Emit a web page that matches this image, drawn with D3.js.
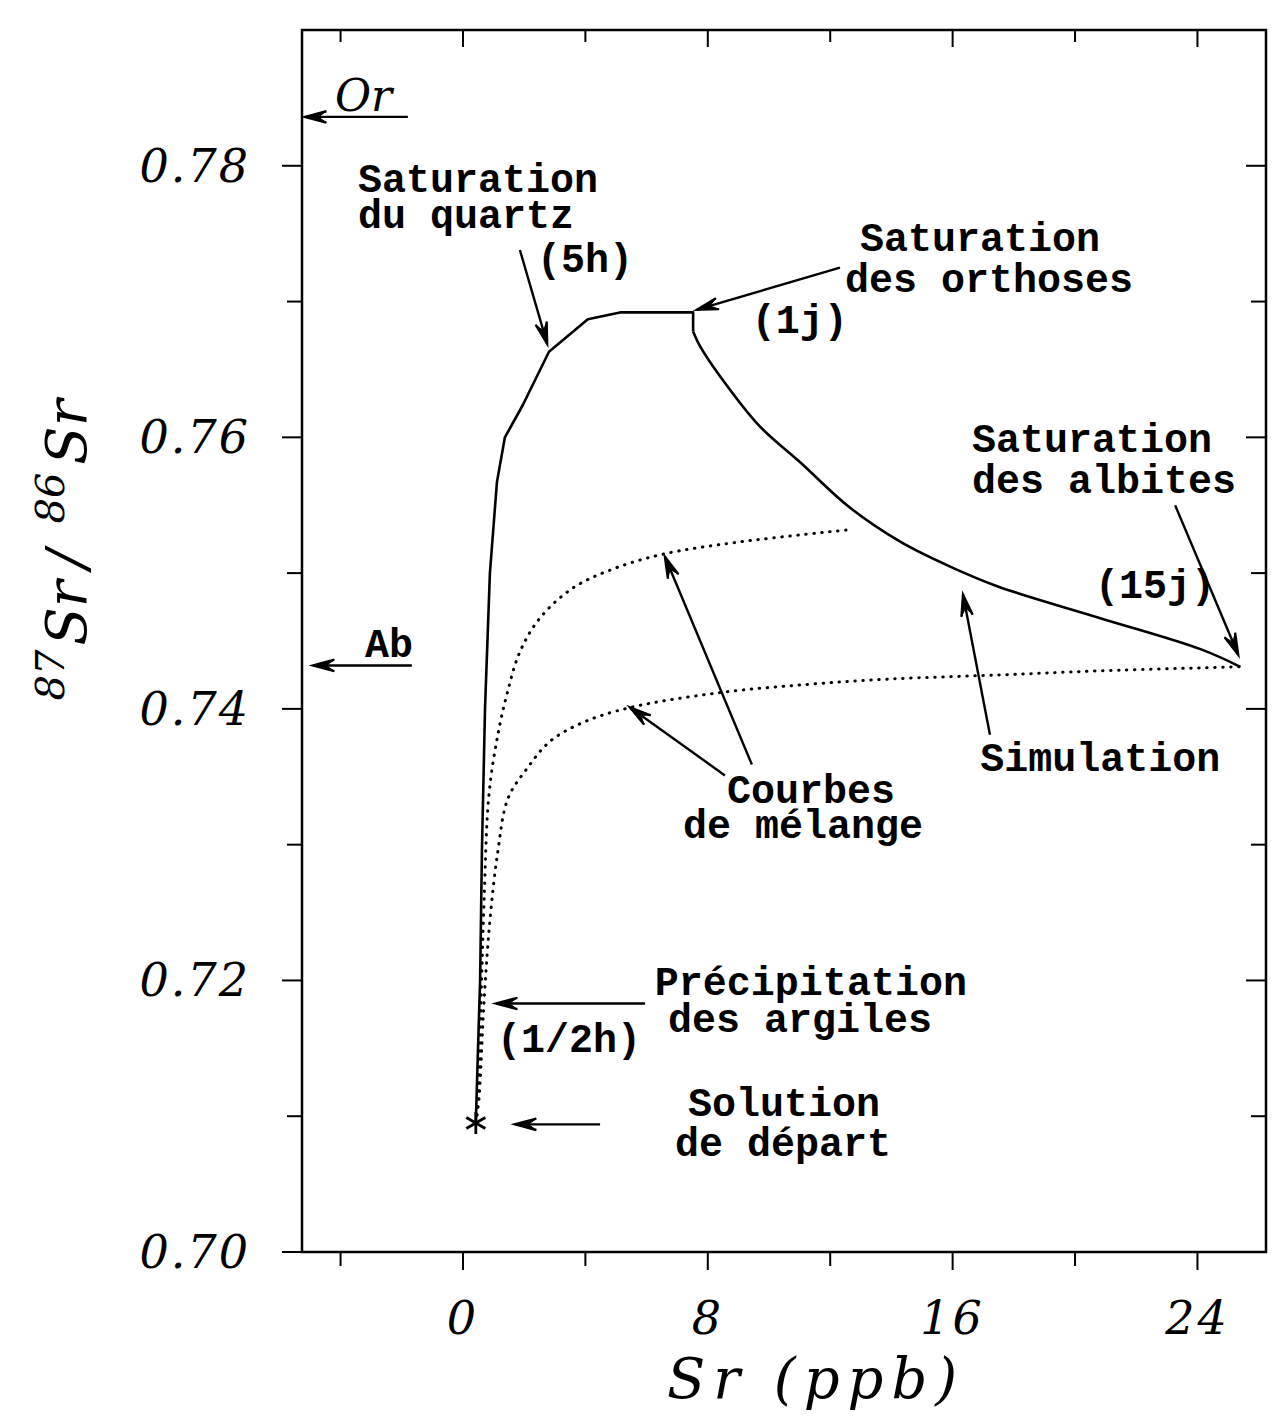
<!DOCTYPE html>
<html><head><meta charset="utf-8">
<script src="https://cdn.jsdelivr.net/npm/d3@7"></script>
<style>body{margin:0;background:#fff}</style>
</head><body>
<svg id="c" width="1274" height="1423"></svg>
<script>
// Simulation curve (Sr ppb, 87Sr/86Sr)
const simX = [0.42,0.49,0.56,0.62,0.72,0.88,1.11,1.37,1.96,2.81,4.08,5.13,7.52,7.52,7.75,8.4,9.7,11.0,12.6,14.3,15.9,17.5,20.8,24.1,25.4];
const simY = [0.7095,0.7149,0.7200,0.7296,0.7400,0.7500,0.7567,0.7600,0.7624,0.7663,0.7687,0.7692,0.7692,0.7678,0.7667,0.7645,0.7608,0.7582,0.7549,0.7523,0.7505,0.7490,0.7467,0.7444,0.7431];
// Upper mixing curve
const mixAX = [0.42,0.49,0.59,0.69,0.85,1.14,1.44,1.86,2.52,3.59,4.90,6.54,9.05,12.65];
const mixAY = [0.7095,0.7112,0.7185,0.7259,0.7337,0.7381,0.7411,0.7442,0.7467,0.7489,0.7503,0.7514,0.7523,0.7532];
// Lower mixing curve
const mixBX = [0.42,0.52,0.69,0.88,1.14,1.47,2.09,2.84,3.92,5.46,8.40,11.24,13.95,17.55,20.8,25.4];
const mixBY = [0.7095,0.7112,0.7185,0.7244,0.7295,0.7334,0.7356,0.7376,0.7390,0.7401,0.7412,0.7418,0.7422,0.7425,0.7428,0.7431];
// Starting solution
const startX = 0.42, startY = 0.7095;
// Axis ticks
const xTicks = [-4,0,4,8,12,16,20,24];
const xTickLabels = ["0","8","16","24"];
const yTicks = [0.70,0.71,0.72,0.73,0.74,0.75,0.76,0.77,0.78];
const yTickLabels = ["0.70","0.72","0.74","0.76","0.78"];
// Annotation texts (data-space anchors)
const labelText = ["Saturation","du quartz","(5h)","Saturation","des orthoses","(1j)","Saturation","des albites","(15j)","Simulation","Courbes","de mélange","Précipitation","des argiles","(1/2h)","Solution","de départ","Ab"];
const labelX = [-3.43,-3.43,2.42,12.97,12.48,9.44,16.63,16.63,20.65,16.90,8.63,7.19,6.27,6.70,1.11,7.35,6.93,-3.20];
const labelY = [0.7781,0.7754,0.7722,0.7737,0.7707,0.7677,0.7589,0.7559,0.7482,0.7354,0.7331,0.7305,0.7189,0.7162,0.7147,0.7100,0.7071,0.7438];
// Arrows (from -> to)
const arrX0 = [-1.80,-1.67,1.86,12.32,23.27,17.22,9.44,8.56,5.95,4.48];
const arrY0 = [0.7836,0.7432,0.7738,0.7725,0.7550,0.7381,0.7359,0.7351,0.7183,0.7094];
const arrX1 = [-5.16,-4.90,2.75,7.65,25.33,16.34,6.60,5.46,1.08,1.70];
const arrY1 = [0.7836,0.7432,0.7669,0.7694,0.7440,0.7484,0.7512,0.7401,0.7183,0.7094];

const svg = d3.select("#c");
const L=302,R=1266,T=30,B=1252;
const x = d3.scaleLinear().domain([-5.26,26.24]).range([L,R]);
const y = d3.scaleLinear().domain([0.70,0.79]).range([B,T]);
const serif = "'DejaVu Serif', serif";
const mono = "'Liberation Mono', 'DejaVu Sans Mono', monospace";

// frame
svg.append("rect").attr("x",L).attr("y",T).attr("width",R-L).attr("height",B-T)
  .attr("fill","none").attr("stroke","#000").attr("stroke-width",2.5);

const isMajX = v => v % 8 === 0;
const isMajY = v => Math.round(v*100) % 2 === 0;
svg.append("g").selectAll("line").data(xTicks).join("line")
  .attr("x1",d=>x(d)).attr("x2",d=>x(d)).attr("y1",B).attr("y2",d=>B+(isMajX(d)?18:14))
  .attr("stroke","#000").attr("stroke-width",2);
svg.append("g").selectAll("line").data(xTicks).join("line")
  .attr("x1",d=>x(d)).attr("x2",d=>x(d)).attr("y1",T).attr("y2",d=>T+(isMajX(d)?17:12))
  .attr("stroke","#000").attr("stroke-width",2);
svg.append("g").selectAll("line").data(yTicks).join("line")
  .attr("y1",d=>y(d)).attr("y2",d=>y(d)).attr("x1",L).attr("x2",d=>L-(isMajY(d)?20:15))
  .attr("stroke","#000").attr("stroke-width",2);
svg.append("g").selectAll("line").data(yTicks).join("line")
  .attr("y1",d=>y(d)).attr("y2",d=>y(d)).attr("x1",R).attr("x2",d=>R-(isMajY(d)?20:15))
  .attr("stroke","#000").attr("stroke-width",2);

// tick labels
svg.append("g").selectAll("text").data(xTickLabels).join("text")
  .attr("x",d=>x(+d)).attr("y",1334).attr("text-anchor","middle")
  .attr("font-family",serif).attr("font-style","italic").attr("font-size",46)
  .attr("letter-spacing",3).text(d=>d);
svg.append("g").selectAll("text").data(yTickLabels).join("text")
  .attr("x",250).attr("y",d=>y(+d)+16).attr("text-anchor","end")
  .attr("font-family",serif).attr("font-style","italic").attr("font-size",46)
  .attr("letter-spacing",2).text(d=>d);

// axis titles
svg.append("text").attr("x",816).attr("y",1398).attr("text-anchor","middle")
  .attr("font-family",serif).attr("font-style","italic").attr("font-size",56)
  .attr("letter-spacing",8).text("Sr (ppb)");
const yt = svg.append("text").attr("transform","translate(86,550) rotate(-90)")
  .attr("text-anchor","middle").attr("font-family",serif).attr("font-style","italic").attr("font-size",56);
yt.append("tspan").attr("font-size",40).attr("dy",-22).text("87");
yt.append("tspan").attr("dy",22).attr("dx",4).text("Sr");
yt.append("tspan").attr("dx",12).text("/");
yt.append("tspan").attr("font-size",40).attr("dy",-22).attr("dx",26).text("86");
yt.append("tspan").attr("dy",22).attr("dx",8).text("Sr");

// curves
const line = d3.line().x(d=>x(d[0])).y(d=>y(d[1]));
const smooth = d3.line().x(d=>x(d[0])).y(d=>y(d[1])).curve(d3.curveCatmullRom.alpha(0.5));
const simPts = d3.zip(simX,simY);
svg.append("path").attr("d",line(simPts.slice(0,14))).attr("fill","none")
  .attr("stroke","#000").attr("stroke-width",2.6).attr("stroke-linejoin","round");
svg.append("path").attr("d",smooth(simPts.slice(13))).attr("fill","none")
  .attr("stroke","#000").attr("stroke-width",2.6).attr("stroke-linejoin","round");
[[mixAX,mixAY],[mixBX,mixBY]].forEach(([xs,ys])=>{
  svg.append("path").attr("d",smooth(d3.zip(xs,ys))).attr("fill","none")
    .attr("stroke","#000").attr("stroke-width",3).attr("stroke-linecap","round")
    .attr("stroke-dasharray","0.5,7.5");
});

// star
const sx=x(startX), sy=y(startY), r=11;
const star = svg.append("g").attr("stroke","#000").attr("stroke-width",2.8);
[0,60,120].forEach(a=>{
  const t=a*Math.PI/180;
  star.append("line").attr("x1",sx-r*Math.sin(t)).attr("y1",sy-r*Math.cos(t))
    .attr("x2",sx+r*Math.sin(t)).attr("y2",sy+r*Math.cos(t));
});

// arrows
const ag = svg.append("g").attr("stroke","#000").attr("stroke-width",2.4).attr("fill","none");
arrX0.forEach((_,i)=>{
  const x0=x(arrX0[i]),y0=y(arrY0[i]),x1=x(arrX1[i]),y1=y(arrY1[i]);
  ag.append("line").attr("x1",x0).attr("y1",y0).attr("x2",x1).attr("y2",y1);
  const ang=Math.atan2(y1-y0,x1-x0), hl=22, ha=0.26;
  const p1=[x1-hl*Math.cos(ang-ha),y1-hl*Math.sin(ang-ha)];
  const p2=[x1-hl*Math.cos(ang+ha),y1-hl*Math.sin(ang+ha)];
  const pm=[x1-hl*0.6*Math.cos(ang),y1-hl*0.6*Math.sin(ang)];
  ag.append("path").attr("d",`M${p1}L${x1},${y1}L${p2}`).attr("stroke-linejoin","miter");
  ag.append("path").attr("d",`M${p1}L${x1},${y1}L${p2}L${pm}Z`).attr("fill","#000").attr("stroke-width",1);
});

// labels
svg.append("g").selectAll("text").data(labelText).join("text")
  .attr("x",(d,i)=>x(labelX[i])).attr("y",(d,i)=>y(labelY[i]))
  .attr("font-family",mono).attr("font-weight","bold").attr("font-size",40)
  .text(d=>d);
svg.append("text").attr("x",x(-4.18)).attr("y",y(0.7840))
  .attr("font-family",serif).attr("font-style","italic").attr("font-size",44).text("Or");
</script>
</body></html>
